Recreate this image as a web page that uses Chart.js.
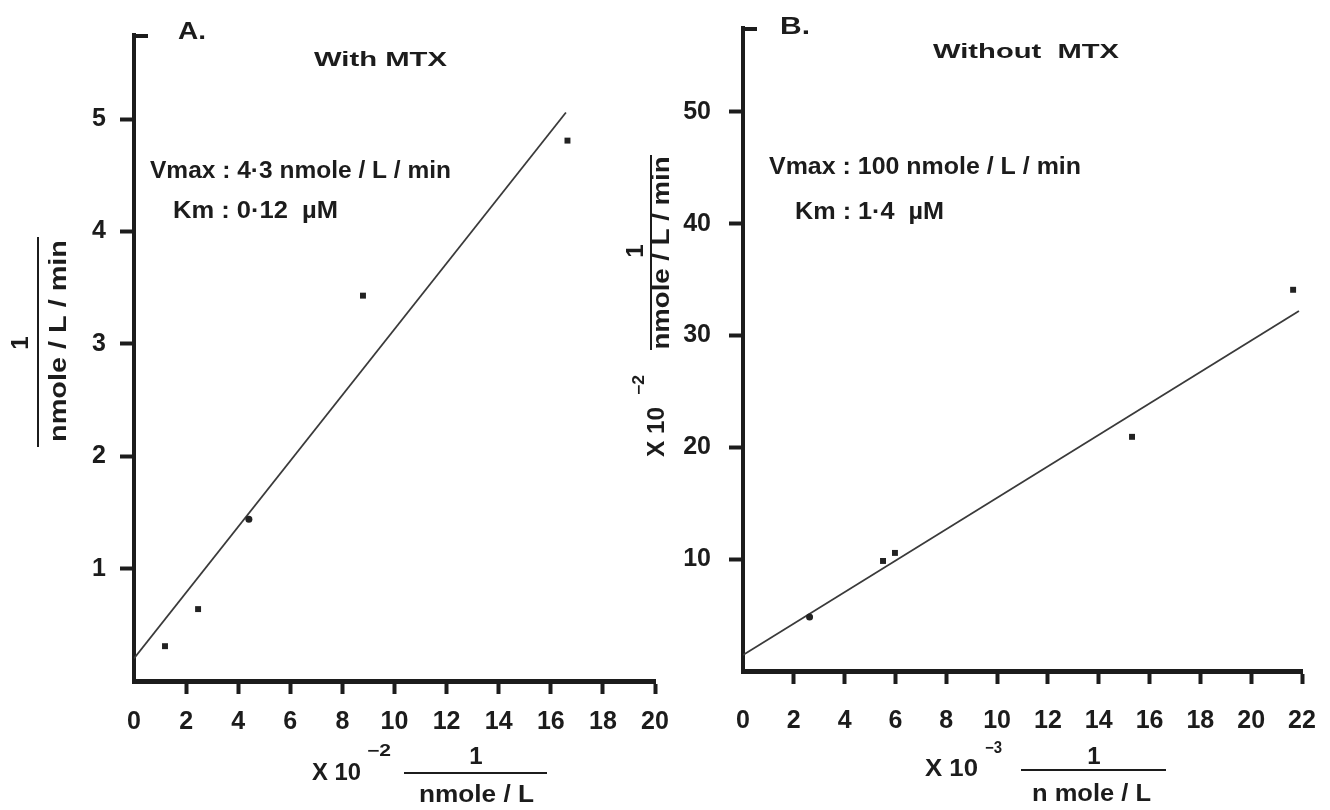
<!DOCTYPE html>
<html><head><meta charset="utf-8">
<script src="https://cdn.jsdelivr.net/npm/chart.js@4.4.0/dist/chart.umd.min.js"></script>
<style>
html,body{margin:0;padding:0;background:#fff;}
#wrap{position:relative;width:1330px;height:810px;overflow:hidden;background:#fff;}
canvas{position:absolute;top:0;}
#ca{left:0;} #cb{left:600px;}
</style></head><body>
<div id="wrap"><canvas id="ca" width="700" height="810"></canvas><canvas id="cb" width="730" height="810"></canvas></div>
<script>
// ---------- Data ----------
const xTicksA = [0, 2, 4, 6, 8, 10, 12, 14, 16, 18, 20];
const yTicksA = [1, 2, 3, 4, 5];
const pointsAx = [1.19, 2.46, 4.41, 8.79, 16.64];
const pointsAy = [0.31, 0.64, 1.44, 3.43, 4.81];
const pointStyleA = ['rect', 'rect', 'circle', 'rect', 'rect'];
const lineAx = [0, 16.58];
const lineAy = [0.2, 5.06];

const xTicksB = [0, 2, 4, 6, 8, 10, 12, 14, 16, 18, 20, 22];
const yTicksB = [10, 20, 30, 40, 50];
const pointsBx = [2.62, 5.51, 5.98, 15.31, 21.65];
const pointsBy = [4.83, 9.84, 10.56, 20.94, 34.09];
const pointStyleB = ['circle', 'rect', 'rect', 'rect', 'rect'];
const lineBx = [0, 21.88];
const lineBy = [1.43, 32.2];

const INK = '#1c1c1c';
const FONT = '"Liberation Sans", Arial, Helvetica, sans-serif';

function zip(xs, ys) { return xs.map((x, i) => ({ x: x, y: ys[i] })); }

// draw text horizontally fitted to a target width (still real text)
function fitText(ctx, text, x, y, w, font, align, rot) {
  ctx.save();
  ctx.font = font;
  ctx.fillStyle = INK;
  ctx.textBaseline = 'middle';
  ctx.textAlign = 'left';
  const m = ctx.measureText(text).width;
  const s = w ? w / m : 1;
  ctx.translate(x, y);
  if (rot) ctx.rotate(-Math.PI / 2);
  let start = 0;
  const tw = m * s;
  if (align === 'center') start = -tw / 2;
  ctx.scale(s, 1);
  ctx.fillText(text, start / s, 0);
  ctx.restore();
}
function line(ctx, x1, y1, x2, y2, w) {
  ctx.save();
  ctx.strokeStyle = INK; ctx.lineWidth = w; ctx.lineCap = 'butt';
  ctx.beginPath(); ctx.moveTo(x1, y1); ctx.lineTo(x2, y2); ctx.stroke();
  ctx.restore();
}

const decor = {
  id: 'decor',
  afterDraw(chart, args, opts) {
    const ctx = chart.ctx;
    const ca = chart.chartArea;
    line(ctx, ca.left - 2, ca.top + 1, ca.left + 14, ca.top + 1, 4);
    const ox = opts.ox || 0;
    (opts.texts || []).forEach(t => fitText(ctx, t.s, t.x - ox, t.y, t.w, t.f, t.a, t.r));
    (opts.lines || []).forEach(l => line(ctx, l[0] - ox, l[1], l[2] - ox, l[3], l[4]));
  }
};

function makeChart(id, cfg) {
  const c = document.getElementById(id);
  return new Chart(c, {
    type: 'scatter',
    data: {
      datasets: [
        {
          data: zip(cfg.lx, cfg.ly), showLine: true, pointRadius: 0,
          borderColor: '#3a3a3a', borderWidth: 1.8, fill: false, order: 2
        },
        {
          data: zip(cfg.px, cfg.py), showLine: false,
          pointStyle: cfg.ps, pointRadius: cfg.ps.map(p => p === 'circle' ? 3.5 : 4.2),
          backgroundColor: '#222', borderColor: '#222', borderWidth: 0, order: 1
        }
      ]
    },
    options: {
      responsive: false, animation: false, devicePixelRatio: 1,
      layout: { padding: cfg.pad },
      plugins: { legend: { display: false }, tooltip: { enabled: false }, decor: cfg.decor },
      scales: {
        x: {
          type: 'linear', min: 0, max: cfg.xmax,
          border: { display: true, width: 5, color: INK },
          grid: {
            display: true, drawOnChartArea: false, drawTicks: true, tickLength: 13, tickWidth: 4,
            tickColor: (c) => (c.tick && c.tick.value === 0) ? 'rgba(0,0,0,0)' : INK
          },
          ticks: { color: INK, font: { family: FONT, size: 25, weight: 'bold' }, padding: cfg.xpad, maxRotation: 0, autoSkip: false },
          afterBuildTicks: (s) => { s.ticks = cfg.xt.map(v => ({ value: v })); },
          afterFit: (s) => { s.height = cfg.xh; s.paddingLeft = 0; s.paddingRight = 0; }
        },
        y: {
          type: 'linear', min: 0, max: cfg.ymax,
          border: { display: true, width: 4, color: INK },
          grid: { display: true, drawOnChartArea: false, drawTicks: true, tickLength: 14, tickWidth: 4, tickColor: INK },
          ticks: { color: INK, font: { family: FONT, size: 25, weight: 'bold' }, padding: cfg.ypad, autoSkip: false },
          afterBuildTicks: (s) => { s.ticks = cfg.yt.map(v => ({ value: v })); },
          afterFit: (s) => { s.width = cfg.yw; s.paddingTop = 0; s.paddingBottom = 0; }
        }
      }
    },
    plugins: [decor]
  });
}

const B = 'bold ';
makeChart('ca', {
  lx: lineAx, ly: lineAy, px: pointsAx, py: pointsAy, ps: pointStyleA,
  xt: xTicksA, yt: yTicksA, xmax: 20, ymax: 5.75,
  pad: { left: 0, top: 35, right: 45, bottom: 0 }, yw: 134, xh: 129, xpad: 13, ypad: 14,
  decor: {
    ox: 0,
    texts: [
      { s: 'A.', x: 178, y: 32, w: 28, f: B + '24px ' + FONT },
      { s: 'With MTX', x: 314, y: 60, w: 133, f: B + '20px ' + FONT },
      { s: 'Vmax : 4·3 nmole / L / min', x: 150, y: 172, w: 301, f: B + '23px ' + FONT },
      { s: 'Km : 0·12  µM', x: 173, y: 212, w: 165, f: B + '23px ' + FONT },
      { s: '1', x: 21, y: 343, w: 0, f: B + '24px ' + FONT, a: 'center', r: true },
      { s: 'nmole / L / min', x: 60, y: 341, w: 202, f: B + '23px ' + FONT, a: 'center', r: true },
      { s: 'X 10', x: 312, y: 774, w: 49, f: B + '23px ' + FONT },
      { s: '−2', x: 367, y: 752, w: 24, f: B + '16px ' + FONT },
      { s: '1', x: 476, y: 757, w: 0, f: B + '24px ' + FONT, a: 'center' },
      { s: 'nmole / L', x: 419, y: 796, w: 115, f: B + '23px ' + FONT }
    ],
    lines: [
      [38, 237, 38, 447, 2],
      [404, 773, 547, 773, 2]
    ]
  }
});

const O = 600;
makeChart('cb', {
  lx: lineBx, ly: lineBy, px: pointsBx, py: pointsBy, ps: pointStyleB,
  xt: xTicksB, yt: yTicksB, xmax: 22, ymax: 57.5,
  pad: { left: 0, top: 28, right: 28, bottom: 0 }, yw: 743 - O, xh: 139, xpad: 22, ypad: 18,
  decor: {
    ox: O,
    texts: [
      { s: 'B.', x: 780, y: 27, w: 30, f: B + '24px ' + FONT },
      { s: 'Without  MTX', x: 933, y: 52, w: 186, f: B + '20px ' + FONT },
      { s: 'Vmax : 100 nmole / L / min', x: 769, y: 168, w: 312, f: B + '23px ' + FONT },
      { s: 'Km : 1·4  µM', x: 795, y: 213, w: 149, f: B + '23px ' + FONT },
      { s: '1', x: 636, y: 251, w: 0, f: B + '24px ' + FONT, a: 'center', r: true },
      { s: 'nmole / L / min', x: 663, y: 253, w: 193, f: B + '23px ' + FONT, a: 'center', r: true },
      { s: 'X 10', x: 658, y: 432, w: 50, f: B + '23px ' + FONT, a: 'center', r: true },
      { s: '−2', x: 640, y: 385, w: 20, f: B + '16px ' + FONT, a: 'center', r: true },
      { s: 'X 10', x: 925, y: 770, w: 53, f: B + '23px ' + FONT },
      { s: '−3', x: 985, y: 749, w: 17, f: B + '16px ' + FONT },
      { s: '1', x: 1094, y: 757, w: 0, f: B + '24px ' + FONT, a: 'center' },
      { s: 'n mole / L', x: 1032, y: 795, w: 119, f: B + '23px ' + FONT }
    ],
    lines: [
      [651, 155, 651, 350, 2],
      [1021, 770, 1166, 770, 2]
    ]
  }
});
</script>
</body></html>
